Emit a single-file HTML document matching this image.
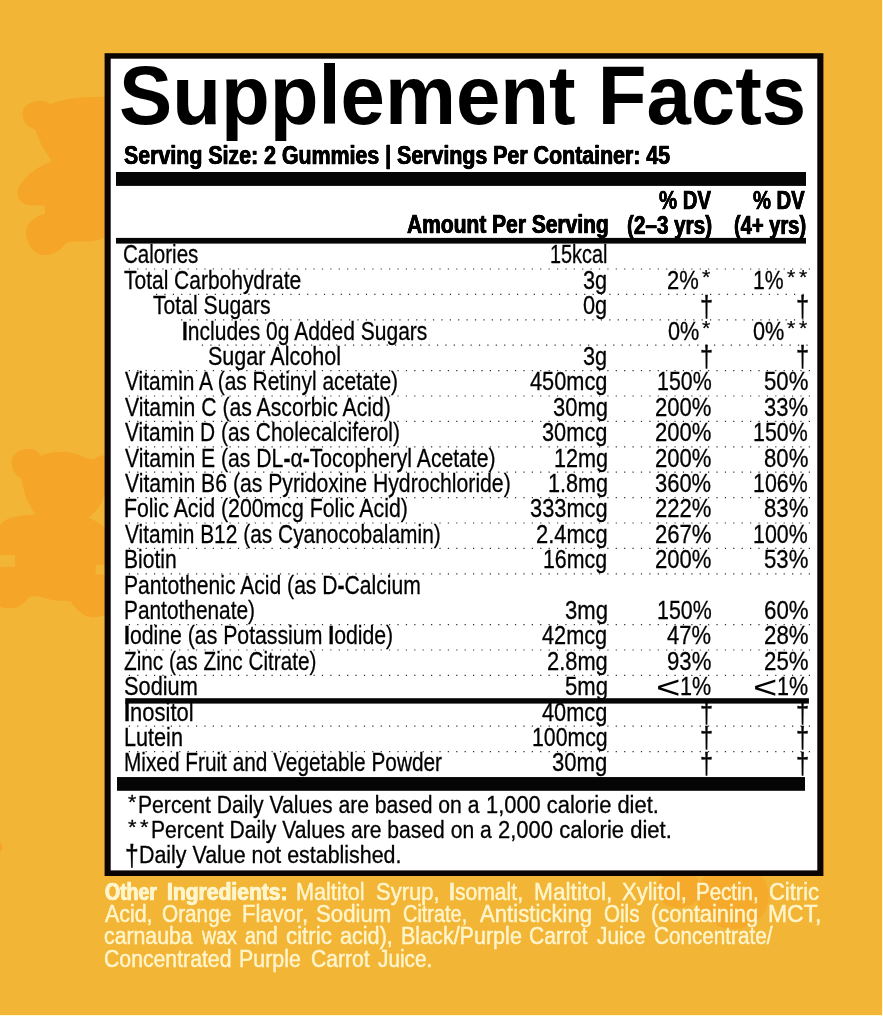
<!DOCTYPE html>
<html lang="en">
<head>
<meta charset="utf-8">
<title>Supplement Facts</title>
<style>
html,body{margin:0;padding:0}
body{width:883px;height:1016px;position:relative;overflow:hidden;background:#fff9cb;font-family:"Liberation Sans",Arial,Helvetica,sans-serif}
#bg{position:absolute;left:0;top:0;width:881.6px;height:1014.5px;background:#f2b536;overflow:hidden}
#bears{position:absolute;left:0;top:0}
#facts span{position:absolute;white-space:nowrap;color:#000}
#facts b{font-weight:700}
</style>
</head>
<body>
<div id="bg">
<svg id="bears" width="883" height="1016" viewBox="0 0 883 1016">
<g fill="#f5a628">
<path d="M104 96.7C96 96.5 88 96.8 80.4 97.5C74 98 68 99 63.6 100C58 101.3 54 102.7 50.2 104.2C47 101.5 43 100.5 38.5 100.9C28 101.5 22 108 22.6 115.1C23 122 27 126.5 31.8 127.7C33.5 128.5 35 129.5 36 131C37 135 38.5 138.5 40.2 141.9C42 146 44.3 150 46.9 153.6C48.5 156.3 50.2 158.8 51.9 161.2C46.5 163 41.5 165.5 36.8 168.7C31.5 172 27 175.8 23.4 180.4C19.8 184.3 17.6 188 17.6 192.1C17.6 196.5 19 200 21.8 202.2C25 204.8 29 205.5 33.5 205.5L44.4 205.5L45.2 213.9C41 214.5 37 216.3 33.5 218.9C28.7 222.3 26 227 26 232.3C26 238 27.8 243.3 31 247.4C34 251.7 38.5 254.6 43.5 254.9C48.5 255.2 53.3 254.2 56.9 251.6C60.5 249.4 63.3 246.6 65.3 243.2C68.5 242.1 72 241.5 75.3 241.5L90.4 241.5C95 241 99.5 239.5 106 237.3L106 96.7Z"/>
<path d="M40.7 455.9C38 450.5 32.5 448.3 26.6 448.9C17 449.8 11 456 11.5 463C12 470.5 16 476 21.3 478.1C21.5 481 22.2 483.5 23 486C23.8 490.5 25 494.7 26.6 498.5C28 502.3 29.8 505.8 31.9 509L35.4 514.4C32 514.6 28.3 514.9 24.8 515.3C19.7 515.8 14.8 516.6 10.6 517.9C6 519.5 2.3 522 0 525L0 555.1L15 555.1L15 566.7L0 566.7L0 606.5C3.4 608 7 608.6 10.6 608.3C14.5 608 18.3 606.8 21.3 604.7C24.3 602.8 26.6 600.4 28.3 597.7C30.5 596.5 33 596 35.4 595.9C40 596.4 44.8 597.8 49.6 599.4C56 600.6 63.5 601 70.9 601.2C72.2 603.8 74 606.2 76.2 608.3C78.7 611.3 81.7 613.7 85 615.4C88.4 616.8 92 617.3 95.7 617.1C98.8 616.8 101.8 615.9 106 614.5L106 574.6L95.7 574.6L95.7 564.9L106 564.9L106 528.6C103 526.6 101.2 524.8 99.2 523.3C96 521 92.4 519.2 88.6 517.9C91.3 515.8 93.7 513.5 95.7 510.9C98.5 507.8 100.9 504.2 102.7 500.2C103.4 498 104 495.5 106 493L106 455C100 455.5 96.5 457 93.9 459.5C91.5 459 89 458.7 86.8 458.6C82 455.5 76.5 453.5 70.9 452.4C65 451.5 59 451.5 53.1 452.4C48.7 453 44.5 454.2 40.7 455.9Z"/>
<circle cx="-3" cy="847" r="5.6"/>
</g>
<g fill="#f5aa2c">
<ellipse cx="679" cy="889" rx="22" ry="19"/>
<ellipse cx="733" cy="896" rx="36" ry="33"/>
</g>
</svg>
</div>
<svg id="frame" width="883" height="1016" viewBox="0 0 883 1016" style="position:absolute;left:0;top:0">
<rect x="104.6" y="53.2" width="718.8" height="822.8" fill="#0a0403"/>
<rect x="110.7" y="58.7" width="706.6" height="811.7" fill="#fff"/>
<g fill="#050505">
<rect x="116" y="172" width="690" height="13.9"/>
<rect x="116" y="237.9" width="690" height="5.7"/>
<rect x="125.2" y="698.2" width="683.7" height="5.4"/>
<rect x="117" y="777.05" width="688" height="13.75"/>
</g>
<g stroke="#2e2e2e" stroke-width="1.2" stroke-dasharray="1.2 7.195" fill="none">
<path d="M128.8 269.00H810.4"/>
<path d="M156.0 294.40H810.4"/>
<path d="M181.1 319.80H810.4"/>
<path d="M201.9 345.20H810.4"/>
<path d="M128.8 370.60H810.4"/>
<path d="M128.8 396.00H810.4"/>
<path d="M128.8 421.40H810.4"/>
<path d="M128.8 446.80H810.4"/>
<path d="M128.8 472.20H810.4"/>
<path d="M128.8 497.60H810.4"/>
<path d="M128.8 523.00H810.4"/>
<path d="M128.8 548.40H810.4"/>
<path d="M128.8 573.80H810.4"/>
<path d="M128.8 624.60H810.4"/>
<path d="M128.8 650.00H810.4"/>
<path d="M128.8 675.40H810.4"/>
<path d="M128.8 726.20H810.4"/>
<path d="M128.8 751.60H810.4"/>
</g>
</svg>
<div id="facts">
<span style="left:119.14px;top:53.90px;font-size:83.3px;line-height:83.3px;font-weight:700;transform-origin:0 70.00px;transform:scaleX(0.9578)">Supplement Facts</span>
<span style="left:124.00px;top:141.90px;font-size:26.6px;line-height:26.6px;font-weight:700;-webkit-text-stroke:0.45px #000;text-shadow:0.45px 0 0 #000,-0.45px 0 0 #000;transform-origin:0 22.00px;transform:scaleX(0.8032)">Serving Size: 2 Gummies | Servings Per Container: 45</span>
<span style="left:407.29px;top:212.20px;font-size:25.6px;line-height:25.6px;font-weight:700;-webkit-text-stroke:0.45px #000;text-shadow:0.45px 0 0 #000,-0.45px 0 0 #000;transform-origin:0 20.00px;transform:scaleX(0.8200)">Amount Per Serving</span>
<span style="left:659.00px;top:188.00px;font-size:25.6px;line-height:25.6px;font-weight:700;-webkit-text-stroke:0.45px #000;text-shadow:0.45px 0 0 #000,-0.45px 0 0 #000;transform-origin:0 20.00px;transform:scaleX(0.7954)">% DV</span>
<span style="left:626.89px;top:212.80px;font-size:25.6px;line-height:25.6px;font-weight:700;-webkit-text-stroke:0.45px #000;text-shadow:0.45px 0 0 #000,-0.45px 0 0 #000;transform-origin:0 20.00px;transform:scaleX(0.8077)">(2&#8211;3 yrs)</span>
<span style="left:753.40px;top:188.00px;font-size:25.6px;line-height:25.6px;font-weight:700;-webkit-text-stroke:0.45px #000;text-shadow:0.45px 0 0 #000,-0.45px 0 0 #000;transform-origin:0 20.00px;transform:scaleX(0.7893)">% DV</span>
<span style="left:733.81px;top:212.80px;font-size:25.6px;line-height:25.6px;font-weight:700;-webkit-text-stroke:0.45px #000;text-shadow:0.45px 0 0 #000,-0.45px 0 0 #000;transform-origin:0 20.00px;transform:scaleX(0.7856)">(4+ yrs)</span>
<span style="left:123.34px;top:241.40px;font-size:26.7px;line-height:26.7px;-webkit-text-stroke:0.3px #000;transform-origin:0 22.00px;transform:scaleX(0.7697)">Calories</span>
<span style="left:123.91px;top:266.80px;font-size:26.7px;line-height:26.7px;-webkit-text-stroke:0.3px #000;transform-origin:0 22.00px;transform:scaleX(0.7857)">Total Carbohydrate</span>
<span style="left:153.40px;top:292.20px;font-size:26.7px;line-height:26.7px;-webkit-text-stroke:0.3px #000;transform-origin:0 22.00px;transform:scaleX(0.7925)">Total Sugars</span>
<span style="left:181.62px;top:317.60px;font-size:26.7px;line-height:26.7px;-webkit-text-stroke:0.3px #000;transform-origin:0 22.00px;transform:scaleX(0.7874)"><b>I</b>ncludes 0g Added Sugars</span>
<span style="left:208.09px;top:343.00px;font-size:26.7px;line-height:26.7px;-webkit-text-stroke:0.3px #000;transform-origin:0 22.00px;transform:scaleX(0.8074)">Sugar Alcohol</span>
<span style="left:125.00px;top:368.40px;font-size:26.7px;line-height:26.7px;-webkit-text-stroke:0.3px #000;transform-origin:0 22.00px;transform:scaleX(0.7844)">Vitamin A (as Retinyl acetate)</span>
<span style="left:125.00px;top:393.80px;font-size:26.7px;line-height:26.7px;-webkit-text-stroke:0.3px #000;transform-origin:0 22.00px;transform:scaleX(0.7943)">Vitamin C (as Ascorbic Acid)</span>
<span style="left:125.00px;top:419.20px;font-size:26.7px;line-height:26.7px;-webkit-text-stroke:0.3px #000;transform-origin:0 22.00px;transform:scaleX(0.7831)">Vitamin D (as Cholecalciferol)</span>
<span style="left:125.00px;top:444.60px;font-size:26.7px;line-height:26.7px;-webkit-text-stroke:0.3px #000;transform-origin:0 22.00px;transform:scaleX(0.7929)">Vitamin E (as DL<b>-</b>&#945;<b>-</b>Tocopheryl Acetate)</span>
<span style="left:125.00px;top:470.00px;font-size:26.7px;line-height:26.7px;-webkit-text-stroke:0.3px #000;transform-origin:0 22.00px;transform:scaleX(0.7936)">Vitamin B6 (as Pyridoxine Hydrochloride)</span>
<span style="left:123.61px;top:495.40px;font-size:26.7px;line-height:26.7px;-webkit-text-stroke:0.3px #000;transform-origin:0 22.00px;transform:scaleX(0.7974)">Folic Acid (200mcg Folic Acid)</span>
<span style="left:125.00px;top:520.80px;font-size:26.7px;line-height:26.7px;-webkit-text-stroke:0.3px #000;transform-origin:0 22.00px;transform:scaleX(0.7836)">Vitamin B12 (as Cyanocobalamin)</span>
<span style="left:123.62px;top:546.20px;font-size:26.7px;line-height:26.7px;-webkit-text-stroke:0.3px #000;transform-origin:0 22.00px;transform:scaleX(0.7905)">Biotin</span>
<span style="left:123.62px;top:571.60px;font-size:26.7px;line-height:26.7px;-webkit-text-stroke:0.3px #000;transform-origin:0 22.00px;transform:scaleX(0.7909)">Pantothenic Acid (as D<b>-</b>Calcium</span>
<span style="left:123.64px;top:597.00px;font-size:26.7px;line-height:26.7px;-webkit-text-stroke:0.3px #000;transform-origin:0 22.00px;transform:scaleX(0.7817)">Pantothenate)</span>
<span style="left:124.01px;top:622.40px;font-size:26.7px;line-height:26.7px;-webkit-text-stroke:0.3px #000;transform-origin:0 22.00px;transform:scaleX(0.7958)"><b>I</b>odine (as Potassium <b>I</b>odide)</span>
<span style="left:124.22px;top:647.80px;font-size:26.7px;line-height:26.7px;-webkit-text-stroke:0.3px #000;transform-origin:0 22.00px;transform:scaleX(0.7768)">Zinc (as Zinc Citrate)</span>
<span style="left:123.98px;top:673.20px;font-size:26.7px;line-height:26.7px;-webkit-text-stroke:0.3px #000;transform-origin:0 22.00px;transform:scaleX(0.8159)">Sodium</span>
<span style="left:123.97px;top:698.60px;font-size:26.7px;line-height:26.7px;-webkit-text-stroke:0.3px #000;transform-origin:0 22.00px;transform:scaleX(0.8233)"><b>I</b>nositol</span>
<span style="left:123.58px;top:724.00px;font-size:26.7px;line-height:26.7px;-webkit-text-stroke:0.3px #000;transform-origin:0 22.00px;transform:scaleX(0.8101)">Lutein</span>
<span style="left:123.64px;top:749.40px;font-size:26.7px;line-height:26.7px;-webkit-text-stroke:0.3px #000;transform-origin:0 22.00px;transform:scaleX(0.7795)">Mixed Fruit and Vegetable Powder</span>
<span style="left:550.18px;top:241.40px;font-size:26.3px;line-height:26.3px;-webkit-text-stroke:0.3px #000;transform-origin:0 22.00px;transform:scaleX(0.7546)">15kcal</span>
<span style="left:583.48px;top:266.80px;font-size:26.3px;line-height:26.3px;-webkit-text-stroke:0.3px #000;transform-origin:0 22.00px;transform:scaleX(0.8259)">3g</span>
<span style="left:583.48px;top:292.20px;font-size:26.3px;line-height:26.3px;-webkit-text-stroke:0.3px #000;transform-origin:0 22.00px;transform:scaleX(0.8259)">0g</span>
<span style="left:583.48px;top:343.00px;font-size:26.3px;line-height:26.3px;-webkit-text-stroke:0.3px #000;transform-origin:0 22.00px;transform:scaleX(0.8259)">3g</span>
<span style="left:530.29px;top:368.40px;font-size:26.3px;line-height:26.3px;-webkit-text-stroke:0.3px #000;transform-origin:0 22.00px;transform:scaleX(0.8273)">450mcg</span>
<span style="left:552.77px;top:393.80px;font-size:26.3px;line-height:26.3px;-webkit-text-stroke:0.3px #000;transform-origin:0 22.00px;transform:scaleX(0.8346)">30mg</span>
<span style="left:542.18px;top:419.20px;font-size:26.3px;line-height:26.3px;-webkit-text-stroke:0.3px #000;transform-origin:0 22.00px;transform:scaleX(0.8287)">30mcg</span>
<span style="left:553.56px;top:444.60px;font-size:26.3px;line-height:26.3px;-webkit-text-stroke:0.3px #000;transform-origin:0 22.00px;transform:scaleX(0.8224)">12mg</span>
<span style="left:547.66px;top:470.00px;font-size:26.3px;line-height:26.3px;-webkit-text-stroke:0.3px #000;transform-origin:0 22.00px;transform:scaleX(0.8215)">1.8mg</span>
<span style="left:530.08px;top:495.40px;font-size:26.3px;line-height:26.3px;-webkit-text-stroke:0.3px #000;transform-origin:0 22.00px;transform:scaleX(0.8296)">333mcg</span>
<span style="left:535.96px;top:520.80px;font-size:26.3px;line-height:26.3px;-webkit-text-stroke:0.3px #000;transform-origin:0 22.00px;transform:scaleX(0.8311)">2.4mcg</span>
<span style="left:543.48px;top:546.20px;font-size:26.3px;line-height:26.3px;-webkit-text-stroke:0.3px #000;transform-origin:0 22.00px;transform:scaleX(0.8119)">16mcg</span>
<span style="left:564.77px;top:597.00px;font-size:26.3px;line-height:26.3px;-webkit-text-stroke:0.3px #000;transform-origin:0 22.00px;transform:scaleX(0.8410)">3mg</span>
<span style="left:542.39px;top:622.40px;font-size:26.3px;line-height:26.3px;-webkit-text-stroke:0.3px #000;transform-origin:0 22.00px;transform:scaleX(0.8260)">42mcg</span>
<span style="left:546.96px;top:647.80px;font-size:26.3px;line-height:26.3px;-webkit-text-stroke:0.3px #000;transform-origin:0 22.00px;transform:scaleX(0.8313)">2.8mg</span>
<span style="left:564.86px;top:673.20px;font-size:26.3px;line-height:26.3px;-webkit-text-stroke:0.3px #000;transform-origin:0 22.00px;transform:scaleX(0.8392)">5mg</span>
<span style="left:542.29px;top:698.60px;font-size:26.3px;line-height:26.3px;-webkit-text-stroke:0.3px #000;transform-origin:0 22.00px;transform:scaleX(0.8273)">40mcg</span>
<span style="left:531.98px;top:724.00px;font-size:26.3px;line-height:26.3px;-webkit-text-stroke:0.3px #000;transform-origin:0 22.00px;transform:scaleX(0.8089)">100mcg</span>
<span style="left:552.47px;top:749.40px;font-size:26.3px;line-height:26.3px;-webkit-text-stroke:0.3px #000;transform-origin:0 22.00px;transform:scaleX(0.8394)">30mg</span>
<span style="left:656.68px;top:368.40px;font-size:26.3px;line-height:26.3px;-webkit-text-stroke:0.3px #000;transform-origin:0 22.00px;transform:scaleX(0.8124)">150%</span>
<span style="left:654.85px;top:393.80px;font-size:26.3px;line-height:26.3px;-webkit-text-stroke:0.3px #000;transform-origin:0 22.00px;transform:scaleX(0.8398)">200%</span>
<span style="left:654.85px;top:419.20px;font-size:26.3px;line-height:26.3px;-webkit-text-stroke:0.3px #000;transform-origin:0 22.00px;transform:scaleX(0.8398)">200%</span>
<span style="left:654.85px;top:444.60px;font-size:26.3px;line-height:26.3px;-webkit-text-stroke:0.3px #000;transform-origin:0 22.00px;transform:scaleX(0.8398)">200%</span>
<span style="left:655.27px;top:470.00px;font-size:26.3px;line-height:26.3px;-webkit-text-stroke:0.3px #000;transform-origin:0 22.00px;transform:scaleX(0.8335)">360%</span>
<span style="left:654.85px;top:495.40px;font-size:26.3px;line-height:26.3px;-webkit-text-stroke:0.3px #000;transform-origin:0 22.00px;transform:scaleX(0.8398)">222%</span>
<span style="left:654.85px;top:520.80px;font-size:26.3px;line-height:26.3px;-webkit-text-stroke:0.3px #000;transform-origin:0 22.00px;transform:scaleX(0.8398)">267%</span>
<span style="left:654.85px;top:546.20px;font-size:26.3px;line-height:26.3px;-webkit-text-stroke:0.3px #000;transform-origin:0 22.00px;transform:scaleX(0.8398)">200%</span>
<span style="left:656.68px;top:597.00px;font-size:26.3px;line-height:26.3px;-webkit-text-stroke:0.3px #000;transform-origin:0 22.00px;transform:scaleX(0.8124)">150%</span>
<span style="left:667.48px;top:622.40px;font-size:26.3px;line-height:26.3px;-webkit-text-stroke:0.3px #000;transform-origin:0 22.00px;transform:scaleX(0.8351)">47%</span>
<span style="left:667.06px;top:647.80px;font-size:26.3px;line-height:26.3px;-webkit-text-stroke:0.3px #000;transform-origin:0 22.00px;transform:scaleX(0.8433)">93%</span>
<span style="left:763.86px;top:368.40px;font-size:26.3px;line-height:26.3px;-webkit-text-stroke:0.3px #000;transform-origin:0 22.00px;transform:scaleX(0.8433)">50%</span>
<span style="left:764.07px;top:393.80px;font-size:26.3px;line-height:26.3px;-webkit-text-stroke:0.3px #000;transform-origin:0 22.00px;transform:scaleX(0.8392)">33%</span>
<span style="left:753.48px;top:419.20px;font-size:26.3px;line-height:26.3px;-webkit-text-stroke:0.3px #000;transform-origin:0 22.00px;transform:scaleX(0.8124)">150%</span>
<span style="left:763.86px;top:444.60px;font-size:26.3px;line-height:26.3px;-webkit-text-stroke:0.3px #000;transform-origin:0 22.00px;transform:scaleX(0.8433)">80%</span>
<span style="left:753.48px;top:470.00px;font-size:26.3px;line-height:26.3px;-webkit-text-stroke:0.3px #000;transform-origin:0 22.00px;transform:scaleX(0.8124)">106%</span>
<span style="left:763.86px;top:495.40px;font-size:26.3px;line-height:26.3px;-webkit-text-stroke:0.3px #000;transform-origin:0 22.00px;transform:scaleX(0.8433)">83%</span>
<span style="left:753.48px;top:520.80px;font-size:26.3px;line-height:26.3px;-webkit-text-stroke:0.3px #000;transform-origin:0 22.00px;transform:scaleX(0.8124)">100%</span>
<span style="left:763.86px;top:546.20px;font-size:26.3px;line-height:26.3px;-webkit-text-stroke:0.3px #000;transform-origin:0 22.00px;transform:scaleX(0.8433)">53%</span>
<span style="left:763.64px;top:597.00px;font-size:26.3px;line-height:26.3px;-webkit-text-stroke:0.3px #000;transform-origin:0 22.00px;transform:scaleX(0.8475)">60%</span>
<span style="left:763.64px;top:622.40px;font-size:26.3px;line-height:26.3px;-webkit-text-stroke:0.3px #000;transform-origin:0 22.00px;transform:scaleX(0.8475)">28%</span>
<span style="left:763.64px;top:647.80px;font-size:26.3px;line-height:26.3px;-webkit-text-stroke:0.3px #000;transform-origin:0 22.00px;transform:scaleX(0.8475)">25%</span>
<span style="left:667.45px;top:266.80px;font-size:26.3px;line-height:26.3px;-webkit-text-stroke:0.3px #000;transform-origin:0 22.00px;transform:scaleX(0.8361)">2%</span>
<span style="left:701.90px;top:262.35px;font-size:26.7px;line-height:26.7px;-webkit-text-stroke:0.3px #000;transform-origin:0 22.00px;transform:scale(0.8000,0.7487)">*</span>
<span style="left:667.88px;top:317.60px;font-size:26.3px;line-height:26.3px;-webkit-text-stroke:0.3px #000;transform-origin:0 22.00px;transform:scaleX(0.8247)">0%</span>
<span style="left:701.90px;top:313.15px;font-size:26.7px;line-height:26.7px;-webkit-text-stroke:0.3px #000;transform-origin:0 22.00px;transform:scale(0.8000,0.7487)">*</span>
<span style="left:753.39px;top:266.80px;font-size:26.3px;line-height:26.3px;-webkit-text-stroke:0.3px #000;transform-origin:0 22.00px;transform:scaleX(0.8056)">1%</span>
<span style="left:786.90px;top:262.35px;font-size:26.7px;line-height:26.7px;-webkit-text-stroke:0.3px #000;transform-origin:0 22.00px;transform:scale(0.8000,0.7487)">*</span>
<span style="left:799.10px;top:262.35px;font-size:26.7px;line-height:26.7px;-webkit-text-stroke:0.3px #000;transform-origin:0 22.00px;transform:scale(0.8000,0.7487)">*</span>
<span style="left:752.68px;top:317.60px;font-size:26.3px;line-height:26.3px;-webkit-text-stroke:0.3px #000;transform-origin:0 22.00px;transform:scaleX(0.8247)">0%</span>
<span style="left:786.90px;top:313.15px;font-size:26.7px;line-height:26.7px;-webkit-text-stroke:0.3px #000;transform-origin:0 22.00px;transform:scale(0.8000,0.7487)">*</span>
<span style="left:799.10px;top:313.15px;font-size:26.7px;line-height:26.7px;-webkit-text-stroke:0.3px #000;transform-origin:0 22.00px;transform:scale(0.8000,0.7487)">*</span>
<span style="left:699.66px;top:294.52px;font-size:26.7px;line-height:26.7px;-webkit-text-stroke:0.3px #000;transform-origin:0 22.00px;transform:scale(0.8783,1.0884)">&#8224;</span>
<span style="left:796.35px;top:294.52px;font-size:26.7px;line-height:26.7px;-webkit-text-stroke:0.3px #000;transform-origin:0 22.00px;transform:scale(0.8870,1.0884)">&#8224;</span>
<span style="left:699.66px;top:345.32px;font-size:26.7px;line-height:26.7px;-webkit-text-stroke:0.3px #000;transform-origin:0 22.00px;transform:scale(0.8783,1.0884)">&#8224;</span>
<span style="left:796.35px;top:345.32px;font-size:26.7px;line-height:26.7px;-webkit-text-stroke:0.3px #000;transform-origin:0 22.00px;transform:scale(0.8870,1.0884)">&#8224;</span>
<span style="left:699.66px;top:700.92px;font-size:26.7px;line-height:26.7px;-webkit-text-stroke:0.3px #000;transform-origin:0 22.00px;transform:scale(0.8783,1.0884)">&#8224;</span>
<span style="left:796.35px;top:700.92px;font-size:26.7px;line-height:26.7px;-webkit-text-stroke:0.3px #000;transform-origin:0 22.00px;transform:scale(0.8870,1.0884)">&#8224;</span>
<span style="left:699.66px;top:726.32px;font-size:26.7px;line-height:26.7px;-webkit-text-stroke:0.3px #000;transform-origin:0 22.00px;transform:scale(0.8783,1.0884)">&#8224;</span>
<span style="left:796.35px;top:726.32px;font-size:26.7px;line-height:26.7px;-webkit-text-stroke:0.3px #000;transform-origin:0 22.00px;transform:scale(0.8870,1.0884)">&#8224;</span>
<span style="left:699.66px;top:751.72px;font-size:26.7px;line-height:26.7px;-webkit-text-stroke:0.3px #000;transform-origin:0 22.00px;transform:scale(0.8783,1.0884)">&#8224;</span>
<span style="left:796.35px;top:751.72px;font-size:26.7px;line-height:26.7px;-webkit-text-stroke:0.3px #000;transform-origin:0 22.00px;transform:scale(0.8870,1.0884)">&#8224;</span>
<span style="left:655.94px;top:676.41px;font-size:26.7px;line-height:26.7px;transform-origin:0 22.00px;transform:scale(1.5692,1.2074)">&lt;</span>
<span style="left:680.37px;top:673.20px;font-size:26.3px;line-height:26.3px;-webkit-text-stroke:0.3px #000;transform-origin:0 22.00px;transform:scaleX(0.8197)">1%</span>
<span style="left:753.25px;top:676.41px;font-size:26.7px;line-height:26.7px;transform-origin:0 22.00px;transform:scale(1.5615,1.2074)">&lt;</span>
<span style="left:776.97px;top:673.20px;font-size:26.3px;line-height:26.3px;-webkit-text-stroke:0.3px #000;transform-origin:0 22.00px;transform:scaleX(0.8197)">1%</span>
<span style="left:128.47px;top:789.56px;font-size:23.3px;line-height:23.3px;-webkit-text-stroke:0.3px #000;transform-origin:0 19.00px;transform:scale(0.9176,0.8588)">*</span>
<span style="left:138.31px;top:793.90px;font-size:23.3px;line-height:23.3px;-webkit-text-stroke:0.3px #000;transform-origin:0 19.00px;transform:scaleX(0.9070)">Percent Daily Values are based on a</span>
<span style="left:486.19px;top:793.90px;font-size:23.3px;line-height:23.3px;-webkit-text-stroke:0.3px #000;transform-origin:0 19.00px;transform:scaleX(0.9396)">1,000 calorie diet.</span>
<span style="left:128.26px;top:814.96px;font-size:23.3px;line-height:23.3px;-webkit-text-stroke:0.3px #000;transform-origin:0 19.00px;transform:scale(0.9412,0.8588)">*</span>
<span style="left:139.76px;top:814.96px;font-size:23.3px;line-height:23.3px;-webkit-text-stroke:0.3px #000;transform-origin:0 19.00px;transform:scale(0.9412,0.8588)">*</span>
<span style="left:150.92px;top:819.30px;font-size:23.3px;line-height:23.3px;-webkit-text-stroke:0.3px #000;transform-origin:0 19.00px;transform:scaleX(0.9051)">Percent Daily Values are based on a</span>
<span style="left:497.56px;top:819.30px;font-size:23.3px;line-height:23.3px;-webkit-text-stroke:0.3px #000;transform-origin:0 19.00px;transform:scaleX(0.9448)">2,000 calorie diet.</span>
<span style="left:125.01px;top:847.42px;font-size:23.3px;line-height:23.3px;-webkit-text-stroke:0.3px #000;transform-origin:0 19.00px;transform:scale(1.0600,1.2480)">&#8224;</span>
<span style="left:138.99px;top:844.00px;font-size:23.3px;line-height:23.3px;-webkit-text-stroke:0.3px #000;transform-origin:0 19.00px;transform:scaleX(0.9181)">Daily Value not established.</span>
<span style="left:105.48px;top:880.60px;font-size:23.0px;line-height:23.0px;font-weight:700;color:#fff5cc;-webkit-text-stroke:0.55px #fff5cc;text-shadow:0.45px 0 0 #fff5cc,-0.45px 0 0 #fff5cc;transform-origin:0 19.00px;transform:scaleX(0.8459)">Other</span>
<span style="left:166.98px;top:880.60px;font-size:23.0px;line-height:23.0px;font-weight:700;color:#fff5cc;-webkit-text-stroke:0.55px #fff5cc;text-shadow:0.45px 0 0 #fff5cc,-0.45px 0 0 #fff5cc;transform-origin:0 19.00px;transform:scaleX(0.9155)">Ingredients:</span>
<span style="left:296.35px;top:880.60px;font-size:23.0px;line-height:23.0px;color:#fff5cc;-webkit-text-stroke:0.45px #fff5cc;transform-origin:0 19.00px;transform:scaleX(0.9405)">Maltitol</span>
<span style="left:376.08px;top:880.60px;font-size:23.0px;line-height:23.0px;color:#fff5cc;-webkit-text-stroke:0.45px #fff5cc;transform-origin:0 19.00px;transform:scaleX(0.9553)">Syrup,</span>
<span style="left:449.45px;top:880.60px;font-size:23.0px;line-height:23.0px;color:#fff5cc;-webkit-text-stroke:0.45px #fff5cc;transform-origin:0 19.00px;transform:scaleX(0.9200)"><b>I</b>somalt,</span>
<span style="left:534.47px;top:880.60px;font-size:23.0px;line-height:23.0px;color:#fff5cc;-webkit-text-stroke:0.45px #fff5cc;transform-origin:0 19.00px;transform:scaleX(0.9875)">Maltitol,</span>
<span style="left:621.66px;top:880.60px;font-size:23.0px;line-height:23.0px;color:#fff5cc;-webkit-text-stroke:0.45px #fff5cc;transform-origin:0 19.00px;transform:scaleX(0.9567)">Xylitol,</span>
<span style="left:695.94px;top:880.60px;font-size:23.0px;line-height:23.0px;color:#fff5cc;-webkit-text-stroke:0.45px #fff5cc;transform-origin:0 19.00px;transform:scaleX(0.8914)">Pectin,</span>
<span style="left:769.05px;top:880.60px;font-size:23.0px;line-height:23.0px;color:#fff5cc;-webkit-text-stroke:0.45px #fff5cc;transform-origin:0 19.00px;transform:scaleX(0.9549)">Citric</span>
<span style="left:104.73px;top:903.10px;font-size:23.0px;line-height:23.0px;color:#fff5cc;-webkit-text-stroke:0.45px #fff5cc;transform-origin:0 19.00px;transform:scaleX(0.9293)">Acid,</span>
<span style="left:162.32px;top:903.10px;font-size:23.0px;line-height:23.0px;color:#fff5cc;-webkit-text-stroke:0.45px #fff5cc;transform-origin:0 19.00px;transform:scaleX(0.9023)">Orange</span>
<span style="left:241.52px;top:903.10px;font-size:23.0px;line-height:23.0px;color:#fff5cc;-webkit-text-stroke:0.45px #fff5cc;transform-origin:0 19.00px;transform:scaleX(0.9573)">Flavor,</span>
<span style="left:316.48px;top:903.10px;font-size:23.0px;line-height:23.0px;color:#fff5cc;-webkit-text-stroke:0.45px #fff5cc;transform-origin:0 19.00px;transform:scaleX(0.9645)">Sodium</span>
<span style="left:403.43px;top:903.10px;font-size:23.0px;line-height:23.0px;color:#fff5cc;-webkit-text-stroke:0.45px #fff5cc;transform-origin:0 19.00px;transform:scaleX(0.8660)">Citrate,</span>
<span style="left:480.24px;top:903.10px;font-size:23.0px;line-height:23.0px;color:#fff5cc;-webkit-text-stroke:0.45px #fff5cc;transform-origin:0 19.00px;transform:scaleX(0.9631)">Antisticking</span>
<span style="left:603.83px;top:903.10px;font-size:23.0px;line-height:23.0px;color:#fff5cc;-webkit-text-stroke:0.45px #fff5cc;transform-origin:0 19.00px;transform:scaleX(0.8941)">Oils</span>
<span style="left:651.01px;top:903.10px;font-size:23.0px;line-height:23.0px;color:#fff5cc;-webkit-text-stroke:0.45px #fff5cc;transform-origin:0 19.00px;transform:scaleX(0.9527)">(containing</span>
<span style="left:768.26px;top:903.10px;font-size:23.0px;line-height:23.0px;color:#fff5cc;-webkit-text-stroke:0.45px #fff5cc;transform-origin:0 19.00px;transform:scaleX(0.9960)">MCT,</span>
<span style="left:103.81px;top:925.30px;font-size:23.0px;line-height:23.0px;color:#fff5cc;-webkit-text-stroke:0.45px #fff5cc;transform-origin:0 19.00px;transform:scaleX(0.9246)">carnauba</span>
<span style="left:201.71px;top:925.30px;font-size:23.0px;line-height:23.0px;color:#fff5cc;-webkit-text-stroke:0.45px #fff5cc;transform-origin:0 19.00px;transform:scaleX(0.8509)">wax</span>
<span style="left:244.96px;top:925.30px;font-size:23.0px;line-height:23.0px;color:#fff5cc;-webkit-text-stroke:0.45px #fff5cc;transform-origin:0 19.00px;transform:scaleX(0.8469)">and</span>
<span style="left:285.57px;top:925.30px;font-size:23.0px;line-height:23.0px;color:#fff5cc;-webkit-text-stroke:0.45px #fff5cc;transform-origin:0 19.00px;transform:scaleX(0.9708)">citric</span>
<span style="left:340.00px;top:925.30px;font-size:23.0px;line-height:23.0px;color:#fff5cc;-webkit-text-stroke:0.45px #fff5cc;transform-origin:0 19.00px;transform:scaleX(0.9395)">acid),</span>
<span style="left:400.86px;top:925.30px;font-size:23.0px;line-height:23.0px;color:#fff5cc;-webkit-text-stroke:0.45px #fff5cc;transform-origin:0 19.00px;transform:scaleX(0.9360)">Black/Purple</span>
<span style="left:529.09px;top:925.30px;font-size:23.0px;line-height:23.0px;color:#fff5cc;-webkit-text-stroke:0.45px #fff5cc;transform-origin:0 19.00px;transform:scaleX(0.9143)">Carrot</span>
<span style="left:596.77px;top:925.30px;font-size:23.0px;line-height:23.0px;color:#fff5cc;-webkit-text-stroke:0.45px #fff5cc;transform-origin:0 19.00px;transform:scaleX(0.9024)">Juice</span>
<span style="left:653.80px;top:925.30px;font-size:23.0px;line-height:23.0px;color:#fff5cc;-webkit-text-stroke:0.45px #fff5cc;transform-origin:0 19.00px;transform:scaleX(0.8992)">Concentrate/</span>
<span style="left:103.58px;top:947.70px;font-size:23.0px;line-height:23.0px;color:#fff5cc;-webkit-text-stroke:0.45px #fff5cc;transform-origin:0 19.00px;transform:scaleX(0.9230)">Concentrated</span>
<span style="left:239.47px;top:947.70px;font-size:23.0px;line-height:23.0px;color:#fff5cc;-webkit-text-stroke:0.45px #fff5cc;transform-origin:0 19.00px;transform:scaleX(0.9297)">Purple</span>
<span style="left:310.98px;top:947.70px;font-size:23.0px;line-height:23.0px;color:#fff5cc;-webkit-text-stroke:0.45px #fff5cc;transform-origin:0 19.00px;transform:scaleX(0.9175)">Carrot</span>
<span style="left:378.07px;top:947.70px;font-size:23.0px;line-height:23.0px;color:#fff5cc;-webkit-text-stroke:0.45px #fff5cc;transform-origin:0 19.00px;transform:scaleX(0.9052)">Juice.</span>
</div>
</body>
</html>
